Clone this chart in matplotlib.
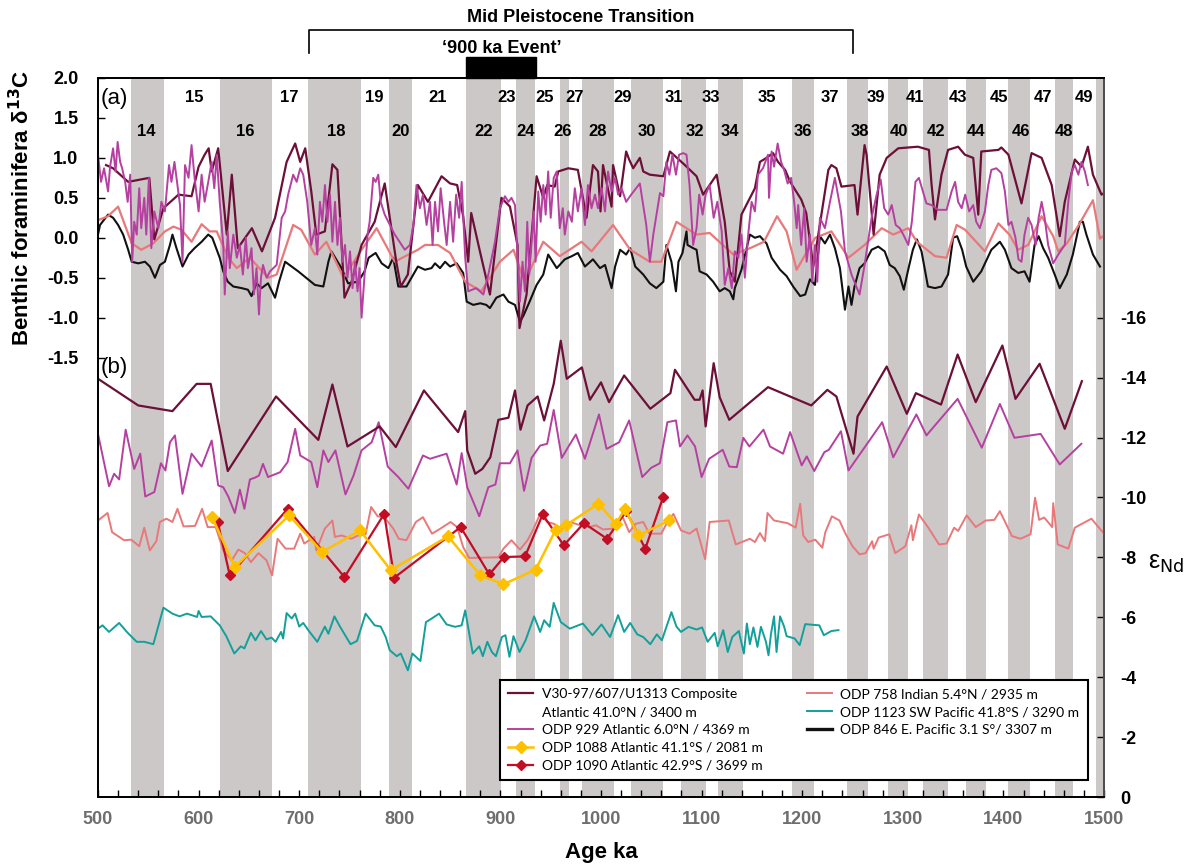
import matplotlib
matplotlib.use("Agg")
import matplotlib.pyplot as plt
import numpy as np
from matplotlib.lines import Line2D

plt.rcParams['font.family'] = ['Liberation Sans', 'DejaVu Sans']
plt.rcParams['axes.unicode_minus'] = False

# --- glacial (even) marine isotope stages, ka ---
glacial_start = [533, 621, 709, 789, 866, 916, 959, 981, 1030, 1080, 1116, 1190,
                 1245, 1285, 1320, 1363, 1405, 1451, 1492]
glacial_end = [566, 673, 761, 812, 901, 934, 968, 1013, 1062, 1104, 1141, 1212,
               1265, 1305, 1345, 1383, 1426, 1469, 1500]

odd_stages = [15, 17, 19, 21, 23, 25, 27, 29, 31, 33, 35, 37, 39, 41, 43, 45, 47, 49]
odd_pos = [596, 690, 775, 838, 906, 944, 974, 1021, 1072, 1109, 1165, 1228, 1273,
           1312, 1355, 1396, 1439, 1480]
even_stages = [14, 16, 18, 20, 22, 24, 26, 28, 30, 32, 34, 36, 38, 40, 42, 44, 46, 48]
even_pos = [548, 646, 737, 801, 883, 925, 962, 997, 1046, 1093, 1128, 1201, 1257,
            1296, 1333, 1373, 1417, 1460]

# --- (a) benthic d13C ---
d13c_v30 = [(508, 0.91), (515, 0.87), (530, 0.70), (551, 0.75), (556, -0.02), (565, 0.37),
            (580, 0.54), (593, 0.52), (600, 0.89), (606, 1.04), (610, 1.12), (613, 0.83),
            (619.5, 1.12), (628, 0.04), (633, 0.79), (639, -0.13), (653, 0.12), (663, -0.17),
            (676, 0.25), (687.5, 0.95), (696, 1.18), (701, 0.95), (706, 1.12), (712, 0.58),
            (717, 0.04), (725.5, 0.08), (733, 0.92), (738, 0.85), (742, -0.05), (745, -0.75),
            (752, -0.55), (762, -0.09), (775, 0.20), (785, 0.68), (796.5, -0.30), (801, -0.61),
            (808, -0.46), (818, 0.66), (828, 0.45), (841.5, 0.77), (850, 0.68), (857, 0.66),
            (863, 0.27), (868, -0.30), (871, 0.31), (880, -0.19), (889.6, -0.71), (901, 0.50),
            (909.5, 0.39), (917, -0.09), (919, -1.13), (926, -0.71), (936, 0.77), (942.6, 0.50),
            (946.5, 0.66), (954, 0.64), (957.5, 0.83), (967.5, 0.87), (977, 0.85), (985.6, 0.25),
            (992, 0.91), (997, 0.83), (999.5, 0.33), (1002, 0.91), (1010.5, 0.39), (1012, 0.91),
            (1019, 0.52), (1025, 1.08), (1028, 0.98), (1032, 0.87), (1038.6, 1.00), (1042, 0.83),
            (1048.5, 0.79), (1062, 0.77), (1068.5, 1.08), (1081.7, 0.93), (1095, 0.77),
            (1101.5, 0.54), (1115, 0.79), (1123, 0.20), (1128, -0.42), (1133, -0.55),
            (1139.6, 0.29), (1153, 0.62), (1158, 0.95), (1164.5, 1.00), (1171, 1.06), (1176, 0.95),
            (1183, 0.85), (1188, 0.70), (1191, 0.64), (1199, 0.48), (1204, 0.31), (1211, -0.36),
            (1216, 0.04), (1226, 0.85), (1229, 0.91), (1234, 0.87), (1239, 0.64), (1252, 0.66),
            (1255, 0.29), (1262, 1.16), (1264, 1.04), (1271, 0.04), (1277, 0.79), (1284, 1.00),
            (1295.5, 1.12), (1315, 1.14), (1326, 1.10), (1328.5, 0.68), (1332, 0.23),
            (1338.5, 0.79), (1345, 1.10), (1355, 1.14), (1361.7, 1.04), (1370, 1.00), (1375, 0.29),
            (1378, 1.08), (1395, 1.10), (1398, 1.13), (1405, 1.04), (1418, 0.43), (1428, 1.06),
            (1438, 1.00), (1448, 0.66), (1456, 0.02), (1461, 0.45), (1471, 0.98), (1477.6, 0.89),
            (1484, 1.14), (1489, 0.79), (1497.5, 0.54), (1500, 0.56)]

d13c_929 = [(500, 1.04), (503, 0.70), (506, 0.87), (510, 0.58), (512, 0.89), (515, 1.12),
            (517.5, 0.83), (519.5, 1.20), (522, 0.95), (524, 0.87), (527, 0.70), (529.5, 0.45),
            (532, 0.79), (534, -0.30), (536, 0.20), (538.5, 0.04), (541, 0.62), (543, 0.12),
            (546, 0.50), (548, 0.04), (550.6, 0.75), (553, -0.13), (556, 0.33), (560, 0.12),
            (563, 0.45), (566.5, 0.33), (570.6, 0.91), (573, 0.70), (576, 0.95), (578, 0.75),
            (581.5, 0.41), (584, -0.30), (586.5, 0.91), (590, 0.75), (593, 1.16), (596, 0.75),
            (600, 0.33), (603, 0.79), (606, 0.45), (609.6, 0.70), (613, 0.95), (615.6, 0.62),
            (618, 1.04), (621, 0.45), (624.5, -0.09), (626, -0.71), (629, 0.08), (631, -0.38),
            (634.5, 0.04), (638, -0.25), (641, -0.09), (644, -0.46), (647, 0.00), (649, -0.38),
            (652.6, -0.13), (655, -0.71), (657.6, -0.38), (660, -0.96), (662, -0.50), (664, -0.34),
            (667.6, -0.50), (671, -0.42), (677.6, -0.34), (682.6, 0.25), (686, 0.33), (689, 0.54),
            (694, 0.79), (697.5, 0.70), (701, 0.87), (704, 0.79), (708, 0.45), (712, -0.09),
            (715.6, 0.12), (718, -0.21), (720.6, 0.45), (723, 0.20), (725.6, 0.66), (728, 0.20),
            (730.6, 0.54), (733, -0.05), (735.6, 0.45), (738, -0.09), (740.5, 0.25), (743, -0.30),
            (745.5, -0.09), (748, -0.50), (750.5, -0.17), (753, -0.63), (755.5, -0.30),
            (758, -0.67), (760, -0.38), (762, -1.00), (765, -0.46), (768, 0.04), (770, 0.20),
            (773.6, 0.75), (776, 0.70), (778.6, 0.79), (781, 0.45), (785, 0.29), (795, 0.04),
            (805, -0.15), (810, -0.09), (813.5, 0.16), (816.6, 0.66), (820, 0.37), (823, 0.54),
            (826.6, 0.16), (830, 0.45), (832.6, -0.09), (835, 0.45), (838, 0.08), (840.6, 0.62),
            (844, 0.20), (846.6, -0.09), (850, 0.45), (853, -0.05), (856, 0.54), (859, 0.25),
            (861.5, 0.70), (865, -0.25), (868, -0.67), (876, -0.63), (883, -0.71), (888, -0.46),
            (894.6, -0.05), (899.5, 0.37), (904.5, 0.52), (908, 0.45), (911, 0.50), (914.5, 0.41),
            (917, -0.21), (919.4, -0.80), (922, -0.30), (924.4, -0.67), (926.7, 0.20),
            (928.7, -0.46), (931, -0.05), (933, 0.33), (935, -0.30), (937.6, 0.58), (940, 0.20),
            (942.6, 0.66), (945, 0.29), (947.5, 0.83), (950, 0.25), (953, 0.75), (956, 0.83),
            (959, 0.12), (962, 0.37), (964, 0.04), (967.5, 0.33), (971, 0.20), (974, 0.62),
            (977, 0.33), (980.6, 0.62), (984, 0.16), (987, 0.66), (990.6, 0.37), (994, 0.54),
            (997, 0.37), (1000.6, 0.62), (1004, 0.33), (1007, 0.83), (1010.5, 0.58), (1014, 0.75),
            (1017, 0.54), (1020.5, 0.62), (1025, 0.45), (1030, 0.54), (1038.6, 0.68),
            (1045, 0.16), (1048.6, -0.30), (1052, 0.04), (1058.6, 0.56), (1062, 0.52), (1065, 0.95),
            (1068, 0.79), (1071, 1.04), (1074.5, 0.79), (1077.6, 1.04), (1081.7, 1.06),
            (1085, 1.04), (1088, 0.66), (1091.6, -0.09), (1095, 0.12), (1097.6, 0.54),
            (1101, 0.29), (1104, 0.54), (1108, 0.66), (1112, 0.25), (1115.6, 0.45), (1120, 0.08),
            (1123, -0.59), (1126.6, -0.38), (1130, -0.63), (1133, -0.17), (1136.5, -0.25),
            (1139.6, 0.04), (1143, -0.50), (1146, 0.00), (1149.7, 0.45), (1153, 0.33),
            (1156, 0.79), (1161, 0.87), (1166, 1.04), (1167, 0.50), (1169.6, 1.08), (1172, 0.89),
            (1175.6, 1.18), (1179, 0.95), (1182, 0.85), (1185.5, 0.68), (1189, 0.75), (1192, 0.45),
            (1194.5, 0.12), (1196, 0.41), (1199, -0.09), (1202, 0.37), (1204.4, -0.30),
            (1207.7, 0.04), (1210, -0.55), (1212.7, -0.09), (1215, -0.55), (1217.6, 0.25),
            (1222.6, 0.12), (1227.6, 0.45), (1232.5, 0.75), (1238.5, 0.33), (1242.5, -0.17),
            (1249, -0.46), (1257, -0.71), (1262, -0.34), (1269, 0.25), (1274, 0.54), (1278, 0.73),
            (1281.5, 0.37), (1285.5, 0.29), (1289, 0.41), (1293, 0.16), (1297, 0.12),
            (1300.5, 0.04), (1305.5, -0.09), (1309, 0.20), (1312.6, 0.70), (1316, 0.75),
            (1320, 0.58), (1323.5, 0.43), (1328.5, 0.41), (1335, 0.35), (1343.5, 0.35),
            (1348.5, 0.58), (1352, 0.70), (1355, 0.45), (1358.5, 0.37), (1362, 0.54), (1366, 0.33),
            (1370, 0.41), (1373, 0.20), (1376.6, 0.12), (1381.6, 0.33), (1385, 0.66), (1388, 0.85),
            (1393, 0.87), (1398, 0.81), (1401.5, 0.58), (1405, 0.16), (1408, 0.20), (1412, 0.00),
            (1415, -0.27), (1418, -0.30), (1421, 0.04), (1424.6, 0.25), (1428, 0.16),
            (1432, -0.09), (1435, 0.25), (1438, 0.45), (1441, 0.25), (1444.5, -0.09),
            (1449.5, -0.32), (1454.5, -0.21), (1461, -0.09), (1464.5, 0.45), (1468, 0.83),
            (1471, 0.91), (1474.5, 0.79), (1477.6, 0.95), (1481, 0.83), (1484, 0.66)]

d13c_758 = [(500, 0.22), (510, 0.27), (520, 0.39), (533.5, -0.07), (543, -0.15), (555, -0.07),
            (566.5, 0.08), (575, 0.14), (583, 0.10), (593, -0.05), (603, 0.17), (611, 0.08),
            (618, 0.08), (629.5, -0.25), (638, -0.38), (651, -0.25), (669, -0.50), (677.6, -0.46),
            (694, 0.16), (702, 0.10), (715.6, -0.21), (727, -0.05), (744, -0.50), (762, -0.15),
            (777, 0.12), (795, -0.30), (808.6, -0.21), (818, -0.15), (825, -0.09), (838, -0.09),
            (850, -0.19), (865, -0.55), (881, -0.67), (899.5, -0.30), (913, -0.15), (924, -0.55),
            (942.6, -0.05), (959, -0.23), (980.7, -0.05), (990.6, -0.17), (1012, 0.16),
            (1029, -0.15), (1048.6, -0.30), (1060, -0.30), (1075, 0.20), (1095, 0.04),
            (1108, 0.06), (1131.6, -0.21), (1150, -0.12), (1162, -0.05), (1175, 0.27),
            (1184.5, 0.08), (1194.5, -0.40), (1204, -0.19), (1213, 0.00), (1229, 0.08),
            (1246, -0.25), (1262, -0.09), (1279, 0.12), (1290.5, 0.04), (1305.5, 0.12),
            (1314, -0.05), (1332, -0.23), (1343.5, -0.25), (1353.5, 0.16), (1362, 0.10),
            (1381.6, -0.17), (1395, 0.18), (1406, 0.04), (1414.6, -0.15), (1424.6, -0.09),
            (1438, 0.27), (1449.5, 0.02), (1454.5, -0.17), (1463, -0.07), (1474, 0.14),
            (1489, 0.47), (1496, -0.01), (1500, 0.03)]

d13c_846 = [(500, 0.04), (502, 0.16), (510, 0.29), (515, 0.25), (520, 0.16), (525, 0.04),
            (530, -0.15), (533.5, -0.30), (540, -0.32), (546.7, -0.30), (551.6, -0.36),
            (556.6, -0.50), (561.6, -0.34), (566.5, -0.30), (571.5, -0.09), (574, 0.04),
            (578, -0.13), (584, -0.36), (590, -0.21), (596, -0.13), (603, -0.05), (609.6, 0.04),
            (613.6, 0.00), (621, -0.25), (624.5, -0.42), (629, -0.55), (634.5, -0.61),
            (642.7, -0.63), (649, -0.65), (652.6, -0.73), (657.6, -0.57), (662.6, -0.63),
            (669, -0.57), (676, -0.75), (680, -0.55), (686, -0.30), (699, -0.42), (715.6, -0.59),
            (724, -0.61), (729, -0.30), (732, -0.17), (742, -0.38), (748.6, -0.57), (758.6, -0.55),
            (765, -0.42), (769, -0.25), (776, -0.19), (782, -0.32), (788.6, -0.38), (793.5, -0.25),
            (798.5, -0.61), (806.6, -0.61), (811.6, -0.50), (818, -0.36), (825, -0.40),
            (831.5, -0.38), (835, -0.32), (840, -0.38), (845, -0.30), (850, -0.36), (856.5, -0.32),
            (863, -0.44), (866.5, -0.80), (873, -0.84), (880, -0.82), (886, -0.84), (889.6, -0.88),
            (896, -0.75), (903, -0.71), (908, -0.80), (914.5, -0.84), (919.4, -1.05),
            (922.7, -0.98), (929, -0.80), (936, -0.59), (942.6, -0.46), (947.5, -0.21),
            (956, -0.38), (964, -0.27), (971, -0.23), (977, -0.19), (984, -0.36), (992, -0.27),
            (999, -0.38), (1004, -0.34), (1010.5, -0.63), (1014, -0.36), (1019, -0.15),
            (1025, -0.21), (1029, -0.13), (1034, -0.36), (1042, -0.46), (1048.5, -0.57),
            (1055, -0.63), (1062, -0.55), (1065, -0.09), (1070, -0.30), (1074.5, -0.67),
            (1077, -0.30), (1081, -0.19), (1085, 0.08), (1086, -0.09), (1091.6, -0.13),
            (1095, -0.15), (1098, -0.42), (1105, -0.46), (1111.5, -0.55), (1118, -0.67),
            (1123, -0.63), (1128, -0.67), (1131.5, -0.77), (1133, -0.63), (1139.6, -0.40),
            (1148, 0.04), (1153, 0.00), (1158, 0.02), (1164.5, -0.07), (1169.6, -0.25),
            (1178, -0.40), (1184.5, -0.48), (1191, -0.61), (1198, -0.73), (1203, -0.71),
            (1207.7, -0.52), (1212.7, -0.59), (1217.6, 0.02), (1222.6, -0.07), (1227.6, 0.04),
            (1232.5, -0.13), (1237.5, -0.38), (1242.5, -0.90), (1246, -0.61), (1249, -0.84),
            (1252, -0.61), (1257, -0.38), (1262, -0.32), (1269, -0.15), (1275.6, -0.11),
            (1282, -0.17), (1287, -0.34), (1292, -0.38), (1297, -0.48), (1301, -0.65),
            (1305, -0.42), (1310, -0.15), (1314, -0.02), (1318.6, -0.17), (1325, -0.61),
            (1332, -0.63), (1338.5, -0.61), (1345, -0.46), (1350, 0.00), (1354, 0.02),
            (1359, -0.15), (1363, -0.36), (1370, -0.55), (1378, -0.42), (1388, -0.15),
            (1396.5, -0.05), (1401.5, -0.15), (1408, -0.38), (1414.7, -0.44), (1421, -0.42),
            (1426, -0.55), (1431, -0.09), (1435, 0.02), (1439.5, -0.13), (1444.5, -0.25),
            (1451, -0.46), (1456, -0.63), (1463, -0.46), (1469, -0.21), (1476, 0.20), (1479, 0.20),
            (1482.5, 0.04), (1489, -0.21), (1496, -0.36)]

# --- (b) eNd ---
end_v30 = [(500, -13.96), (540, -13.07), (574, -12.88), (598, -13.79), (612, -13.79),
           (629, -10.88), (677, -13.37), (719, -11.92), (733, -13.77), (748, -11.70),
           (780, -12.37), (796, -11.68), (824, -13.57), (830, -13.32), (858, -12.18),
           (865, -12.88), (867, -11.57), (875, -10.79), (882, -10.95), (890, -11.34),
           (898, -12.59), (908, -12.66), (914.5, -13.57), (920, -12.26), (927, -13.07),
           (937, -13.37), (943.5, -12.57), (953, -13.79), (960, -15.23), (966, -13.96),
           (981, -14.34), (989, -13.26), (1000, -13.84), (1008, -13.18), (1023, -14.07),
           (1049, -12.96), (1069, -13.48), (1073.5, -14.26), (1093, -13.26), (1098, -13.26),
           (1101, -13.57), (1104, -12.37), (1112, -14.48), (1118, -13.34), (1127.5, -12.59),
           (1166, -13.68), (1209, -13.07), (1225, -13.59), (1234, -13.37), (1251, -11.46),
           (1255, -12.70), (1284, -14.37), (1304, -12.79), (1313, -13.48), (1338, -13.10),
           (1354.5, -14.77), (1372.5, -13.18), (1399, -15.07), (1412, -13.29), (1436, -14.46),
           (1461, -12.29), (1478, -13.88)]

end_929 = [(500, -12.12), (511, -10.37), (516, -10.79), (521, -10.60), (527.5, -12.26),
           (536, -10.95), (542, -11.46), (547, -10.03), (556, -10.18), (562.5, -11.14),
           (567, -10.90), (571.5, -11.84), (576.5, -12.07), (584, -10.12), (593, -11.46),
           (603, -11.03), (613, -11.90), (619.5, -10.40), (624.5, -10.34), (629.5, -10.03),
           (636, -9.48), (641, -10.26), (645.5, -9.62), (651, -10.60), (656, -10.66),
           (660, -10.73), (664, -11.12), (669, -10.68), (681, -10.84), (688.5, -11.18),
           (696, -12.29), (701, -11.40), (712, -11.18), (718, -10.34), (724, -11.57),
           (729, -11.18), (736, -11.57), (746, -10.10), (754, -10.73), (762, -11.57),
           (772, -11.84), (779, -12.51), (788, -11.03), (798.5, -10.68), (808.5, -10.29),
           (823, -11.40), (830, -11.29), (846.5, -11.46), (856.5, -10.43), (861.5, -11.48),
           (867, -10.34), (879, -9.37), (888, -10.34), (895, -10.43), (899.5, -11.14),
           (909.5, -11.14), (917, -11.57), (923.5, -10.22), (931, -11.32), (939.5, -11.73),
           (946.5, -11.79), (953, -12.92), (961, -11.32), (969, -11.77), (975, -12.10),
           (984, -11.29), (998, -12.77), (1005.5, -11.62), (1018, -11.84), (1028, -12.57),
           (1041, -10.68), (1050, -10.99), (1058.5, -11.14), (1066, -12.51), (1074.5, -12.57),
           (1078.5, -11.70), (1086, -12.07), (1093.5, -11.70), (1100, -10.68), (1107.5, -11.29),
           (1121, -11.59), (1127.5, -11.03), (1135, -11.01), (1141.5, -11.99), (1147.5, -11.70),
           (1161.5, -12.26), (1168, -11.70), (1181, -11.46), (1188, -12.18), (1199.5, -11.07),
           (1204.5, -11.37), (1212, -10.88), (1222, -11.51), (1226.5, -11.59), (1238.5, -12.21),
           (1246, -10.90), (1279.5, -12.51), (1290.5, -11.34), (1313.5, -12.77),
           (1323.5, -12.07), (1354.5, -13.29), (1378.5, -11.66), (1396.5, -13.12),
           (1411, -11.99), (1437, -12.12), (1456, -11.10), (1477.5, -11.79)]

end_758 = [(500, -9.23), (509.5, -9.48), (514, -8.84), (526, -8.57), (533, -8.59), (541, -8.37),
           (546, -8.99), (551.5, -8.23), (558, -8.54), (561.5, -9.18), (568, -9.29), (574, -9.18),
           (579, -9.62), (585, -9.03), (596.5, -9.05), (603.5, -9.62), (609, -9.01), (617, -9.01),
           (624.5, -8.23), (633, -7.90), (639.5, -8.26), (646, -8.14), (652, -7.84),
           (659.5, -8.14), (667.5, -7.90), (673, -7.40), (678.5, -8.62), (686.5, -8.29),
           (695, -8.29), (701, -8.79), (705, -8.46), (715, -8.68), (717, -8.23), (725.5, -8.96),
           (733, -9.23), (735.5, -8.68), (742, -8.73), (752, -8.62), (758.5, -8.73), (766, -8.77),
           (771.5, -9.68), (778, -9.37), (785, -9.33), (793.5, -8.96), (799, -8.62),
           (806.5, -8.57), (816, -9.18), (823, -9.34), (832, -8.79), (839, -8.93), (850.5, -9.18),
           (857, -9.01), (863, -8.34), (869, -7.98), (898, -8.00), (903, -8.29), (911, -8.57),
           (919.5, -8.26), (927, -8.57), (932.5, -8.92), (939.5, -9.45), (946.5, -9.18),
           (953, -9.12), (961, -8.96), (969, -9.18), (979.5, -9.07), (988, -9.01), (995, -9.07),
           (1002, -8.93), (1012, -8.96), (1020.5, -9.43), (1028, -8.84), (1034.5, -9.12),
           (1042, -9.18), (1048, -8.79), (1060, -8.79), (1066, -9.18), (1072, -9.45),
           (1079.5, -8.90), (1088, -8.79), (1095, -8.96), (1099.5, -8.43), (1103.5, -7.94),
           (1108, -9.18), (1127, -9.23), (1134, -8.43), (1148, -8.62), (1153, -8.51),
           (1158, -8.81), (1163, -8.54), (1165.5, -9.48), (1172, -9.23), (1185.5, -9.14),
           (1193.5, -8.99), (1198, -9.79), (1201, -8.73), (1206, -8.51), (1213, -8.59),
           (1220, -8.32), (1223, -8.84), (1229.5, -9.37), (1237, -9.23), (1243, -8.79),
           (1250, -8.37), (1257, -8.10), (1263, -8.14), (1269.5, -8.54), (1271, -8.29),
           (1276, -8.66), (1286.5, -8.77), (1292.5, -8.14), (1302.5, -8.37), (1308.5, -9.07),
           (1310, -8.57), (1316, -9.43), (1325, -9.01), (1336, -8.43), (1343.5, -8.46),
           (1351, -8.99), (1355, -8.88), (1363.5, -9.40), (1372.5, -9.01), (1382.5, -9.23),
           (1391, -9.25), (1396.5, -9.54), (1408.5, -8.71), (1417, -8.62), (1427, -8.77),
           (1431.5, -9.99), (1435.5, -9.25), (1440.5, -9.33), (1448.5, -9.01), (1449.5, -9.81),
           (1454, -8.43), (1464.5, -8.29), (1471, -8.99), (1487.5, -9.29), (1500, -8.79)]

end_1088 = [(613.5, -9.34), (636, -7.68), (690, -9.40), (723, -8.18), (760.5, -8.90),
            (791, -7.57), (848, -8.70), (880, -7.40), (903, -7.10), (935, -7.59), (955, -8.92),
            (965, -9.07), (997.5, -9.79), (1015, -9.12), (1024, -9.62), (1037, -8.73),
            (1068, -9.23)]

end_1090 = [(619, -9.18), (631, -7.40), (688.5, -9.62), (745, -7.34), (784.5, -9.45),
            (794.5, -7.32), (860.5, -9.01), (889, -7.43), (903.5, -8.01), (924.5, -8.03),
            (942, -9.43), (963, -8.40), (983, -9.14), (1006, -8.62), (1025, -9.54),
            (1044, -8.29), (1062, -10.03)]

end_1123 = [(500, -5.62), (504.5, -5.73), (511, -5.51), (521, -5.81), (529.5, -5.48),
            (538.5, -5.18), (546, -5.18), (555, -5.10), (565, -6.32), (574, -6.12), (581, -6.03),
            (588.5, -6.12), (598.5, -6.01), (600, -6.21), (603, -6.01), (612, -6.03),
            (621, -5.73), (627.5, -5.37), (635.5, -4.79), (642, -5.03), (645.5, -4.96),
            (652, -5.48), (656.5, -5.23), (662, -5.54), (667.5, -5.26), (672.5, -5.32),
            (676.5, -5.18), (682, -5.51), (684, -5.29), (687.5, -6.14), (692.5, -5.96),
            (696, -6.12), (700, -5.69), (704, -5.81), (709, -5.57), (718, -5.18), (725.5, -5.69),
            (729, -5.45), (735, -6.03), (740.5, -5.69), (751, -5.10), (757.5, -5.21),
            (766, -6.12), (775, -5.73), (781, -5.69), (786, -5.34), (790, -4.90), (797, -4.70),
            (801, -4.79), (808, -4.23), (812.5, -4.79), (820.5, -4.54), (826, -5.84),
            (830, -5.92), (839, -6.12), (846.5, -5.76), (855, -5.68), (861.5, -5.73),
            (865, -6.23), (872.5, -4.79), (879, -5.03), (882.5, -4.70), (887, -5.18),
            (891.5, -4.84), (895.5, -4.70), (901.5, -5.34), (905, -5.40), (909, -4.68),
            (913, -5.37), (919, -4.84), (925, -5.23), (933.5, -6.03), (939.5, -5.51),
            (943.5, -5.90), (949, -5.68), (953, -6.48), (960, -5.84), (969, -5.62), (982, -5.79),
            (991.5, -5.40), (1000.5, -5.76), (1009, -5.34), (1017, -6.07), (1023, -5.51),
            (1029, -5.81), (1036, -5.43), (1042, -5.34), (1049, -5.10), (1055.5, -5.43),
            (1060.5, -5.23), (1070, -6.17), (1075, -5.69), (1079.5, -5.51), (1087, -5.68),
            (1095, -5.59), (1100.5, -5.66), (1106, -5.18), (1113, -5.48), (1116, -5.03),
            (1121.5, -5.57), (1126, -4.84), (1130.5, -5.34), (1137, -5.54), (1142, -4.79),
            (1145, -5.79), (1148, -5.10), (1151.5, -5.66), (1155.5, -5.01), (1159, -5.68),
            (1164, -5.18), (1166.5, -4.73), (1169, -5.45), (1172, -6.03), (1174.5, -4.84),
            (1178, -6.03), (1182, -5.69), (1184.5, -5.37), (1192.5, -5.29), (1197.5, -5.07),
            (1203, -5.77), (1217, -5.73), (1221.5, -5.40), (1229, -5.54), (1236, -5.57)]

c_v30 = '#6d1038'
c_929 = '#b5409f'
c_758 = '#e8787a'
c_846 = '#111111'
c_1123 = '#13a09a'
c_1088 = '#ffc000'
c_1090 = '#c20d24'
c_band = '#cdc8c8'

fig = plt.figure(figsize=(11.89, 8.66), dpi=100)
ax = fig.add_axes([98 / 1189, 1 - 797 / 866, 1006 / 1189, 719 / 866])
ax2 = ax.twinx()

for s, e in zip(glacial_start, glacial_end):
    ax.axvspan(s, e, color=c_band, lw=0, zorder=0)

def xy(series):
    a = np.array(series)
    return a[:, 0], a[:, 1]

ax.plot(*xy(d13c_846), color=c_846, lw=1.5, zorder=3)
ax.plot(*xy(d13c_758), color=c_758, lw=1.6, zorder=3)
ax.plot(*xy(d13c_v30), color=c_v30, lw=1.6, zorder=4)
ax.plot(*xy(d13c_929), color=c_929, lw=1.4, zorder=5)

l_758, = ax2.plot(*xy(end_758), color=c_758, lw=1.4)
l_1123, = ax2.plot(*xy(end_1123), color=c_1123, lw=1.4)
l_929, = ax2.plot(*xy(end_929), color=c_929, lw=1.4)
l_v30, = ax2.plot(*xy(end_v30), color=c_v30, lw=1.6)
l_1090, = ax2.plot(*xy(end_1090), color=c_1090, lw=1.6, marker='D', ms=5.5)
l_1088, = ax2.plot(*xy(end_1088), color=c_1088, lw=1.8, marker='D', ms=6.5)
l_846 = Line2D([], [], color=c_846, lw=2.4)

ax.set_xlim(500, 1500)
ax.set_ylim(-7, 2)
ax2.set_ylim(0, -24)

ax.set_xticks(np.arange(500, 1501, 100))
ax.set_xticks(np.arange(500, 1501, 20), minor=True)
ax.set_yticks([-1.5, -1.0, -0.5, 0.0, 0.5, 1.0, 1.5, 2.0])
ax.set_yticklabels(['%.1f' % v for v in ax.get_yticks()])
ax2.set_yticks(np.arange(0, -17, -2))
ax2.set_yticklabels(['%d' % v for v in ax2.get_yticks()])

ax.tick_params(axis='x', which='both', direction='in', length=5, width=1, pad=10,
               labelsize=13, labelcolor='#6e6e6e')
ax.tick_params(axis='y', direction='in', length=5, width=1, pad=14, labelsize=13)
ax2.tick_params(axis='y', direction='in', length=5, width=1, pad=12, labelsize=13)
for lab in ax.get_xticklabels():
    lab.set_fontweight('bold')
    lab.set_family(['Liberation Sans Narrow', 'Liberation Sans'])
for lab in ax.get_yticklabels() + ax2.get_yticklabels():
    lab.set_fontweight('bold')

for sp in ax.spines.values():
    sp.set_linewidth(1.3)
for sp in ax2.spines.values():
    sp.set_linewidth(1.3)
ax2.spines['right'].set_color('#555555')

ax.set_xlabel('Age ka', fontsize=16, fontweight='bold', labelpad=10)
fig.text(0.018, 1 - 208 / 866, 'Benthic foraminifera δ$^{\\mathbf{13}}$C', rotation=90,
         ha='center', va='center', fontsize=16, fontweight='bold')
fig.text(1148 / 1189, 1 - 563 / 866, 'ε$_{\\mathrm{Nd}}$', fontsize=18, ha='left', va='center')

# stage numbers
for n, x in zip(odd_stages, odd_pos):
    ax.text(x, 1.76, str(n), ha='center', va='center', fontsize=12, fontweight='bold', zorder=6)
for n, x in zip(even_stages, even_pos):
    ax.text(x, 1.325, str(n), ha='center', va='center', fontsize=12, fontweight='bold', zorder=6)

ax.text(503, 1.74, '(a)', fontsize=16, ha='left', va='center', zorder=6)
ax.text(503, -1.63, '(b)', fontsize=16, ha='left', va='center', zorder=6)

# Mid Pleistocene Transition bracket and 900 ka event
ax.plot([710, 710, 1250, 1250], [2.31, 2.6, 2.6, 2.31], color='black', lw=1.2, clip_on=False)
ax.text(980, 2.76, 'Mid Pleistocene Transition', ha='center', va='center', fontsize=13,
        fontweight='bold')
ax.text(901, 2.375, '‘900 ka Event’', ha='center', va='center', fontsize=13,
        fontweight='bold')
ax.axvspan(866, 935, ymin=1.0, ymax=1.0 + 21 / 719, color='black', clip_on=False)

blank = Line2D([], [], color='none')
handles = [l_v30, blank, l_929, l_1088, l_1090, l_758, l_1123, l_846, blank]
labels = ['V30-97/607/U1313 Composite', 'Atlantic 41.0°N / 3400 m',
          'ODP 929 Atlantic 6.0°N / 4369 m', 'ODP 1088 Atlantic 41.1°S / 2081 m',
          'ODP 1090 Atlantic 42.9°S / 3699 m', 'ODP 758 Indian 5.4°N / 2935 m',
          'ODP 1123 SW Pacific 41.8°S / 3290 m', 'ODP 846 E. Pacific 3.1 S°/ 3307 m', '']
leg = ax2.legend(handles, labels, ncol=2, loc='upper left',
                 bbox_to_anchor=(500 / 1189, 1 - 680 / 866), bbox_transform=fig.transFigure,
                 frameon=True, fancybox=False, edgecolor='black', framealpha=1,
                 prop={'family': 'Lato', 'size': 10}, handlelength=1.8, handletextpad=0.6,
                 columnspacing=3.2, labelspacing=0.42, borderpad=0.6, borderaxespad=0)
leg.get_frame().set_linewidth(1.5)
leg.set_zorder(10)

fig.savefig('out.png', dpi=100)
